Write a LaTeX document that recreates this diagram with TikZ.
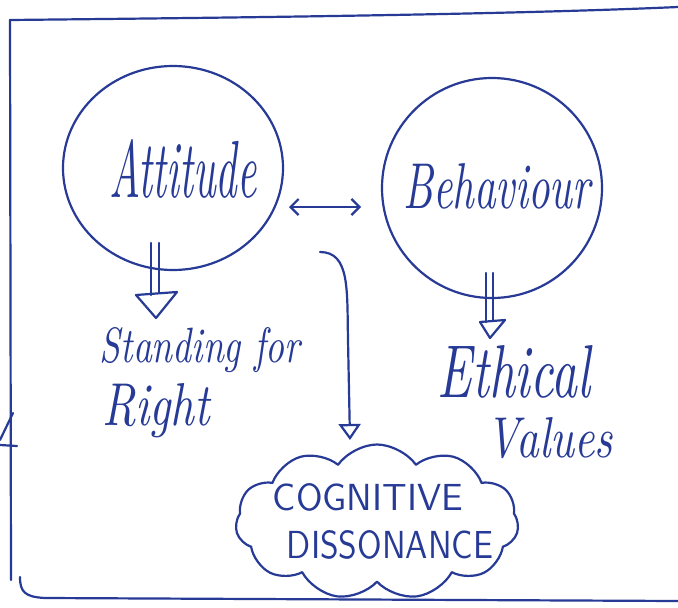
\documentclass[tikz,border=0pt]{standalone}
\usetikzlibrary{shapes.geometric,shapes.symbols,arrows.meta}
\definecolor{ink}{RGB}{38,58,150}
\newcommand\hw[3]{\resizebox{#1pt}{#2pt}{\itshape #3}}
\newcommand\hc[3]{\resizebox{#1pt}{#2pt}{\sffamily #3}}
\begin{document}
\begin{tikzpicture}[x=1pt,y=-1pt,line width=2.2pt,color=ink,line join=round,line cap=round,
  bubble/.style={ellipse,draw,inner sep=0pt},
  txt/.style={inner sep=0pt,text=ink},
  tip/.style={-{Triangle[open,length=16pt,width=22pt]}},
  barb/.style={{Straight Barb[length=8pt,width=16pt]}-{Straight Barb[length=8pt,width=16pt]}}]
\useasboundingbox (0,0) rectangle (678,608);
\fill[white] (0,0) rectangle (678,608);
% frame
\draw (10,20) .. controls (200,18) and (500,15) .. (678,7);
\draw (10,20) -- (11,580);
\draw (20,577) .. controls (20,592) and (25,597) .. (45,598) -- (678,601);
\draw (13,413) -- (0,440);
\draw (0,445) -- (17,446);
% circles
\node[bubble,minimum width=220pt,minimum height=204pt] (att) at (173,168) {};
\node[bubble,minimum width=220pt,minimum height=220pt] (beh) at (492,188) {};
\node[txt] (attT) at (183,169) {\hw{147}{58}{Attitude}};
\node[txt] (behT) at (497,186) {\hw{187}{45}{Behaviour}};
% cloud
\node[cloud,draw,cloud puffs=11,cloud puff arc=110,aspect=1.85,minimum width=283pt,minimum height=155pt,inner sep=0pt] (cd) at (377,522) {};
\node[txt,anchor=base] (cog) at (368,510) {\hc{190}{27}{COGNITIVE}};
\node[txt,anchor=base] (dis) at (390,558) {\hc{206}{28}{DISSONANCE}};
% outcome texts
\node[txt,anchor=base] (stand) at (200,362) {\hw{200}{35}{Standing for}};
\node[txt,anchor=base] (right) at (156,425) {\hw{107}{42}{Right}};
\node[txt,anchor=base] (eth) at (514,397) {\hw{152}{52}{Ethical}};
\node[txt,anchor=base] (val) at (550,457) {\hw{126}{40}{Values}};
% double arrow
\coordinate (da1) at (289,207);
\coordinate (da2) at (361,207);
\draw[barb] (da1) -- (da2);
% curved arrow into the cloud
\coordinate (cs) at (320,252);
\coordinate (ce) at (350,440);
\draw[tip] (cs) .. controls (350,252) and (347,290) .. (348,340) -- (ce);
% hollow arrow under Attitude
\coordinate (ha) at (155,243);
\draw ([xshift=-4pt]ha) -- ++(0,52) ([xshift=4pt]ha) -- ++(0,50);
\draw (136,295) -- (177,292) -- (156,318) -- cycle;
% hollow arrow under Behaviour
\coordinate (hb) at (489.5,273);
\draw ([xshift=-3.5pt]hb) -- ++(0,49) ([xshift=3.5pt]hb) -- ++(0,48);
\draw (480,322) -- (505,320) -- (490,338) -- cycle;
\end{tikzpicture}
\end{document}
